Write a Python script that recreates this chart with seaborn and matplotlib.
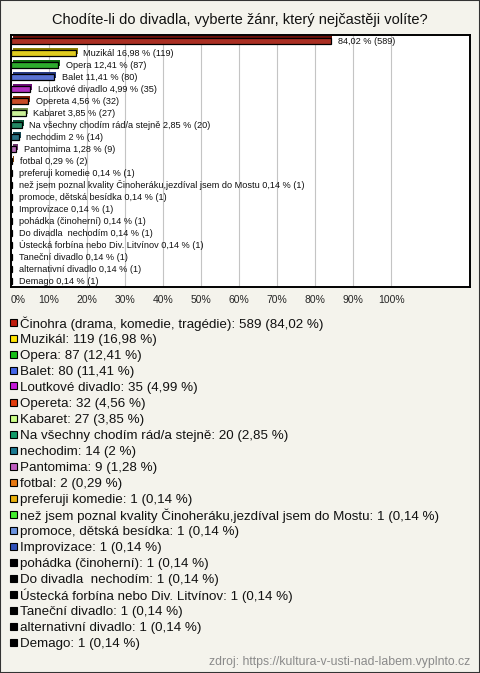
import numpy as np
import pandas as pd
import seaborn as sns
import matplotlib.pyplot as plt
import matplotlib.patheffects as pe
from matplotlib.patches import Rectangle
from matplotlib.colors import to_rgb

# data
categories = ["Činohra (drama, komedie, tragédie)", "Muzikál", "Opera", "Balet",
              "Loutkové divadlo", "Opereta", "Kabaret", "Na všechny chodím rád/a stejně",
              "nechodim", "Pantomima", "fotbal", "preferuji komedie",
              "než jsem poznal kvality Činoheráku,jezdíval jsem do Mostu",
              "promoce, dětská besídka", "Improvizace", "pohádka (činoherní)",
              "Do divadla  nechodím", "Ústecká forbína nebo Div. Litvínov",
              "Taneční divadlo", "alternativní divadlo", "Demago"]
counts = [589, 119, 87, 80, 35, 32, 27, 20, 14, 9, 2, 1, 1, 1, 1, 1, 1, 1, 1, 1, 1]
percents = [84.02, 16.98, 12.41, 11.41, 4.99, 4.56, 3.85, 2.85, 2, 1.28, 0.29,
            0.14, 0.14, 0.14, 0.14, 0.14, 0.14, 0.14, 0.14, 0.14, 0.14]
colors = ["#c01c0c", "#ffe400", "#18c018", "#4466e8", "#c418d8", "#e23c0c",
          "#ccff88", "#139a68", "#1c7a92", "#c05ec0", "#e67812", "#e8b00c",
          "#44ee30", "#6c94e0", "#2f50b8", "#000000", "#000000", "#000000",
          "#000000", "#000000", "#000000"]
xticks = list(range(0, 101, 10))

df = pd.DataFrame({"kategorie": categories, "pocet": counts, "procenta": percents})


def fmt(p):
    return f"{p:g}".replace(".", ",")


sns.set_style("white")
plt.rcParams["font.family"] = ["Liberation Sans", "DejaVu Sans"]

bg = "#f4f3ec"
W, H = 480, 673
fig = plt.figure(figsize=(W / 100, H / 100), dpi=100, facecolor=bg)
ax = fig.add_axes([11 / W, 386 / H, 459 / W, 252 / H])
ax.set_facecolor("white")

sns.barplot(data=df, x="procenta", y="kategorie", hue="kategorie", palette=colors,
            legend=False, width=0.46, edgecolor="black", linewidth=0.9, ax=ax,
            orient="h", zorder=3)

# pseudo 3D look like the original
for patch, c in zip(ax.patches, colors):
    dark = tuple(np.array(to_rgb(c)) * 0.55)
    patch.set_path_effects([pe.SimplePatchShadow(offset=(1.4, 1.4), shadow_rgbFace=dark, alpha=1),
                            pe.Normal()])

for i, (name, p, n) in enumerate(zip(categories, percents, counts)):
    txt = f"{fmt(p)} % ({n})" if i == 0 else f"{name} {fmt(p)} % ({n})"
    ax.annotate(txt, xy=(p, i), xytext=(5.5, 0), textcoords="offset points",
                va="center", ha="left", fontsize=6.6, color="#111111")

ax.set_xlim(0, 120.7)
ax.set_ylim(20.5, -0.5)
ax.set_xticks(xticks)
ax.set_xticklabels([f"{t}%" for t in xticks], fontsize=7.5)
ax.get_xticklabels()[0].set_horizontalalignment("left")
ax.set_yticks([])
ax.set_xlabel("")
ax.set_ylabel("")
ax.tick_params(axis="x", length=0, pad=5.5)
ax.grid(axis="x", color="#c4c4c4", linewidth=0.8, zorder=0)
ax.set_axisbelow(True)
for s in ax.spines.values():
    s.set_color("black")
    s.set_linewidth(1.4)

fig.suptitle("Chodíte-li do divadla, vyberte žánr, který nejčastěji volíte?",
             y=1 - 20 / H, va="center", fontsize=10.5, color="#111111")

# legend as fixed rows, 16 px apart
for i, (name, n, p, c) in enumerate(zip(categories, counts, percents, colors)):
    yc = 1 - (322 + 16 * i) / H
    fig.patches.append(Rectangle((10 / W, yc - 3.5 / H), 7 / W, 7 / H,
                                 transform=fig.transFigure, facecolor=c,
                                 edgecolor="black", linewidth=0.8))
    fig.text(20 / W, yc, f"{name}: {n} ({fmt(p)} %)", ha="left", va="center_baseline",
             fontsize=9.6, color="#111111")

fig.text(470 / W, 1 - 662 / H, "zdroj: https://kultura-v-usti-nad-labem.vyplnto.cz",
         ha="right", va="center", fontsize=8.8, color="#8a8a8a")

fig.patches.append(Rectangle((0, 0), 1, 1, transform=fig.transFigure, fill=False,
                             edgecolor="#333333", linewidth=1.5))

fig.savefig("out.png", dpi=100, facecolor=bg)
